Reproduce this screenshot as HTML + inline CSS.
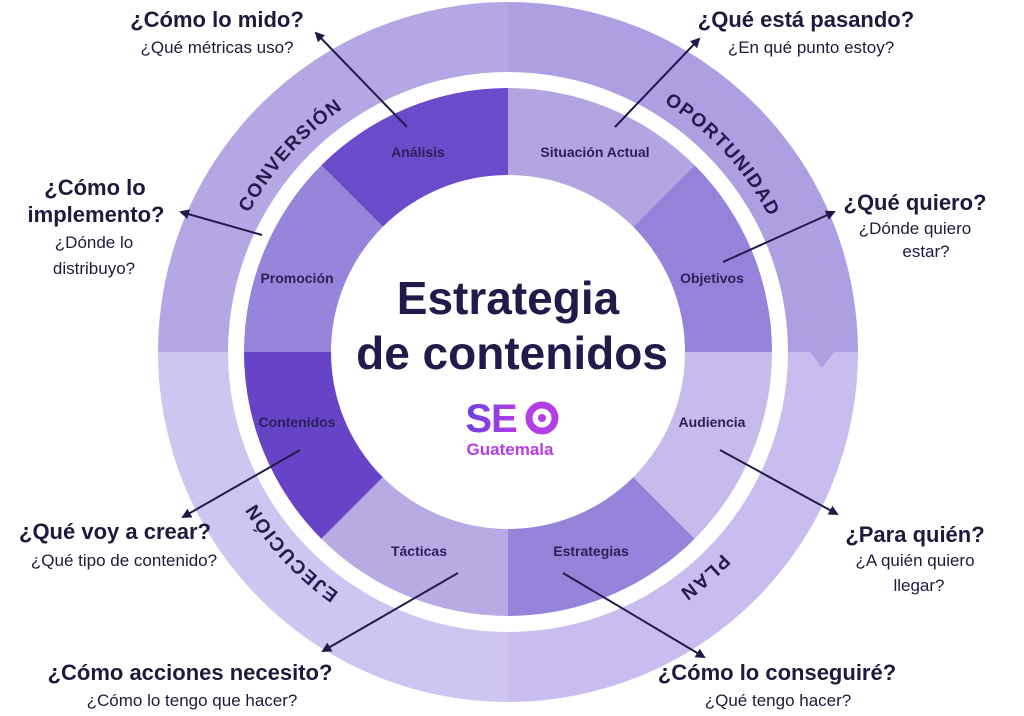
<!DOCTYPE html>
<html><head><meta charset="utf-8"><style>
html,body{margin:0;padding:0;background:#fff;}
svg{display:block;}
</style></head><body>
<svg width="1024" height="716" viewBox="0 0 1024 716" xmlns="http://www.w3.org/2000/svg" font-family="Liberation Sans, DejaVu Sans, sans-serif">
<defs>
<marker id="ah" markerWidth="10" markerHeight="10" refX="8" refY="5" orient="auto" markerUnits="userSpaceOnUse">
<path d="M0,0 L10,5 L0,10 Z" fill="#231a4a"/>
</marker>
<linearGradient id="seo" x1="0" x2="1"><stop offset="0" stop-color="#6a3fe0"/><stop offset="1" stop-color="#b43ee4"/></linearGradient>
<path id="ringpath" d="M214,352 A294,294 0 1 1 802,352 A294,294 0 1 1 214,352"/>
</defs>
<path d="M158,352 A350,350 0 0 1 508,2 L508,72 A280,280 0 0 0 228,352 Z" fill="#b4a7e4"/>
<path d="M508,2 A350,350 0 0 1 858,352 L788,352 A280,280 0 0 0 508,72 Z" fill="#ad9fe1"/>
<path d="M858,352 A350,350 0 0 1 508,702 L508,632 A280,280 0 0 0 788,352 Z" fill="#c8bdee"/>
<path d="M508,702 A350,350 0 0 1 158,352 L228,352 A280,280 0 0 0 508,632 Z" fill="#cec5f1"/>
<path d="M186,352 L198,336 L210,352 Z" fill="#b4a7e4"/>
<path d="M810,352 L822,368 L834,352 Z" fill="#ad9fe1"/>
<g>
<path d="M508,88 L508,175 A177,177 0 0 0 382.8,226.8 L321.3,165.3 A264,264 0 0 1 508,88 Z" fill="#6a4bca"/>
<path d="M508,88 A264,264 0 0 1 694.7,165.3 L633.2,226.8 A177,177 0 0 0 508,175 Z" fill="#b3a5e0"/>
<path d="M694.7,165.3 A264,264 0 0 1 772,352 L685,352 A177,177 0 0 0 633.2,226.8 Z" fill="#9682da"/>
<path d="M772,352 A264,264 0 0 1 694.7,538.7 L633.2,477.2 A177,177 0 0 0 685,352 Z" fill="#c6bbeb"/>
<path d="M694.7,538.7 A264,264 0 0 1 508,616 L508,529 A177,177 0 0 0 633.2,477.2 Z" fill="#9683da"/>
<path d="M508,616 A264,264 0 0 1 321.3,538.7 L382.8,477.2 A177,177 0 0 0 508,529 Z" fill="#b8abe4"/>
<path d="M321.3,538.7 A264,264 0 0 1 244,352 L331,352 A177,177 0 0 0 382.8,477.2 Z" fill="#6743c8"/>
<path d="M244,352 A264,264 0 0 1 321.3,165.3 L382.8,226.8 A177,177 0 0 0 331,352 Z" fill="#9784db"/>
</g>
<g font-weight="bold" font-size="19" fill="#241a4c" letter-spacing="1.5">
<text><textPath href="#ringpath" startOffset="216" text-anchor="middle">CONVERSIÓN</textPath></text>
<text><textPath href="#ringpath" startOffset="705" text-anchor="middle">OPORTUNIDAD</textPath></text>
<text><textPath href="#ringpath" startOffset="1174" text-anchor="middle">PLAN</textPath></text>
<text><textPath href="#ringpath" startOffset="1627" text-anchor="middle">EJECUCIÓN</textPath></text>
</g>
<g font-weight="bold" font-size="14" fill="#2b1f5a" text-anchor="middle">
<text x="418" y="157">Análisis</text>
<text x="595" y="157">Situación Actual</text>
<text x="712" y="283">Objetivos</text>
<text x="297" y="283">Promoción</text>
<text x="297" y="427">Contenidos</text>
<text x="712" y="427">Audiencia</text>
<text x="419" y="556">Tácticas</text>
<text x="591" y="556">Estrategias</text>
</g>
<g font-weight="bold" fill="#231a4a" text-anchor="middle" font-size="46">
<text x="508" y="314">Estrategia</text>
<text x="512" y="369">de contenidos</text>
</g>
<text x="491" y="432" font-weight="bold" font-size="40" fill="url(#seo)" text-anchor="middle" letter-spacing="-1">SE</text>
<circle cx="542" cy="418" r="13" fill="none" stroke="#b23ee4" stroke-width="7"/>
<circle cx="542" cy="418" r="4" fill="#b23ee4"/>
<text x="510" y="455" font-weight="bold" font-size="17" fill="#b63de6" text-anchor="middle">Guatemala</text>
<g stroke="#231a4a" stroke-width="2" marker-end="url(#ah)">
<line x1="407" y1="127" x2="316" y2="33"/>
<line x1="615" y1="127" x2="699" y2="39"/>
<line x1="723" y1="262" x2="834" y2="212"/>
<line x1="262" y1="235" x2="181" y2="212"/>
<line x1="300" y1="450" x2="183" y2="517"/>
<line x1="720" y1="450" x2="837" y2="514"/>
<line x1="458" y1="573" x2="323" y2="651"/>
<line x1="563" y1="573" x2="704" y2="657"/>
</g>
<g fill="#1f1a3d" text-anchor="middle">
<g font-weight="bold" font-size="22">
<text x="217" y="27">¿Cómo lo mido?</text>
<text x="806" y="27">¿Qué está pasando?</text>
<text x="95" y="195">¿Cómo lo</text>
<text x="96" y="222">implemento?</text>
<text x="915" y="210">¿Qué quiero?</text>
<text x="115" y="539">¿Qué voy a crear?</text>
<text x="915" y="542">¿Para quién?</text>
<text x="190" y="680">¿Cómo acciones necesito?</text>
<text x="777" y="680">¿Cómo lo conseguiré?</text>
</g>
<g font-size="17">
<text x="217" y="53">¿Qué métricas uso?</text>
<text x="811" y="53">¿En qué punto estoy?</text>
<text x="94" y="248">¿Dónde lo</text>
<text x="94" y="274">distribuyo?</text>
<text x="915" y="234">¿Dónde quiero</text>
<text x="926" y="257">estar?</text>
<text x="124" y="566">¿Qué tipo de contenido?</text>
<text x="915" y="566">¿A quién quiero</text>
<text x="919" y="591">llegar?</text>
<text x="192" y="706">¿Cómo lo tengo que hacer?</text>
<text x="778" y="706">¿Qué tengo hacer?</text>
</g>
</g>
</svg>
</body></html>
